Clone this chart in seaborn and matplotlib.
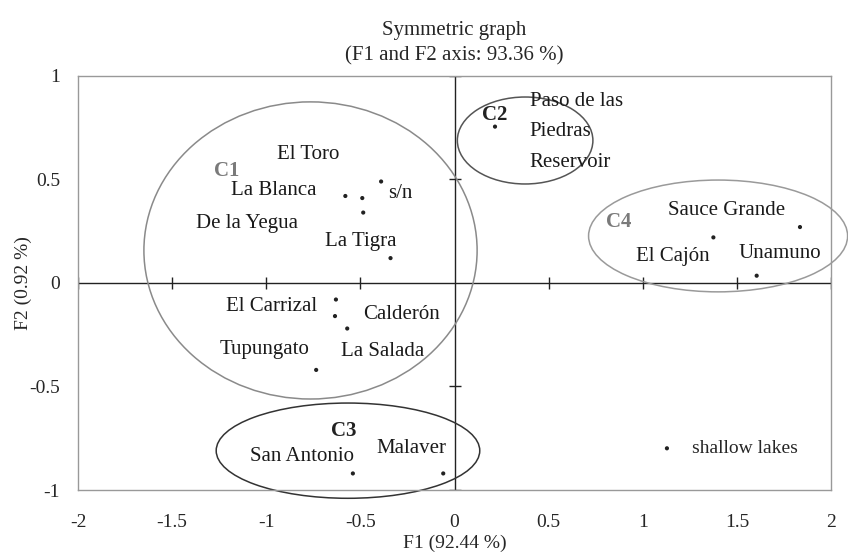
import matplotlib
matplotlib.use('Agg')
import matplotlib.pyplot as plt
from matplotlib.patches import Ellipse
import seaborn as sns
import pandas as pd

# lake coordinates on the first two factors
lakes = ['El Toro', 'La Blanca', 's/n', 'De la Yegua', 'La Tigra',
         'El Carrizal', 'Calderón', 'Tupungato', 'La Salada',
         'San Antonio', 'Malaver', 'Paso de las\nPiedras\nReservoir',
         'El Cajón', 'Sauce Grande', 'Unamuno']
f1 = [-0.49, -0.58, -0.39, -0.485, -0.34,
      -0.63, -0.635, -0.57, -0.735,
      -0.54, -0.06, 0.215,
      1.375, 1.835, 1.605]
f2 = [0.41, 0.42, 0.49, 0.34, 0.12,
      -0.08, -0.16, -0.22, -0.42,
      -0.92, -0.92, 0.755,
      0.22, 0.27, 0.035]

# where each lake name is written
label_x = [-0.78, -0.96, -0.29, -1.10, -0.50,
           -0.97, -0.28, -1.01, -0.38,
           -0.81, -0.23, 0.40,
           1.16, 1.445, 1.73]
label_y = [0.62, 0.445, 0.43, 0.285, 0.20,
           -0.115, -0.15, -0.32, -0.33,
           -0.84, -0.80, 0.73,
           0.13, 0.35, 0.14]

# clusters: centre, width, height, colour of ring and name
clusters = ['C1', 'C2', 'C3', 'C4']
cl_x = [-0.765, 0.375, -0.566, 1.40]
cl_y = [0.157, 0.688, -0.81, 0.227]
cl_w = [1.77, 0.72, 1.40, 1.376]
cl_h = [1.435, 0.42, 0.46, 0.54]
cl_color = ['#8a8a8a', '#555555', '#333333', '#9a9a9a']
cl_label_x = [-1.21, 0.215, -0.59, 0.87]
cl_label_y = [0.54, 0.81, -0.715, 0.295]
cl_label_color = ['#7a7a7a', '#222222', '#222222', '#7a7a7a']

xticks = [-2, -1.5, -1, -0.5, 0, 0.5, 1, 1.5, 2]
yticks = [-1, -0.5, 0, 0.5, 1]

df = pd.DataFrame({'F1': f1, 'F2': f2, 'lake': lakes})

sns.set_style('white')
plt.rcParams['font.family'] = ['Liberation Serif', 'DejaVu Serif']

fig = plt.figure(figsize=(8.48, 5.54), dpi=100)
ax = fig.add_axes([0.092, 0.1155, 0.888, 0.7475])

# crosshair through the origin
ax.axhline(0, color='#222222', lw=1, zorder=1)
ax.axvline(0, color='#222222', lw=1, zorder=1)
# small cross ticks on the crosshair
ax.plot([t for t in xticks if t != 0], [0] * (len(xticks) - 1), marker='|',
        ms=9, mew=1, color='#222222', ls='none', zorder=1)
ax.plot([0] * (len(yticks) - 1), [t for t in yticks if t != 0], marker='_',
        ms=9, mew=1, color='#222222', ls='none', zorder=1)

# cluster rings
for i in range(len(clusters)):
    ax.add_patch(Ellipse((cl_x[i], cl_y[i]), cl_w[i], cl_h[i], fill=False,
                         edgecolor=cl_color[i], lw=1.1, clip_on=False, zorder=2))
    ax.text(cl_label_x[i], cl_label_y[i], clusters[i], fontsize=15, fontweight='bold',
            color=cl_label_color[i], ha='center', va='center', zorder=3)

# lake points
sns.scatterplot(data=df, x='F1', y='F2', ax=ax, s=9, color='#222222',
                edgecolor='none', label='shallow lakes', zorder=4)

for i in range(len(lakes)):
    ha = 'left' if '\n' in lakes[i] else 'center'
    ax.text(label_x[i], label_y[i], lakes[i], fontsize=15, color='#1a1a1a',
            ha=ha, va='center', linespacing=1.8, zorder=3)

ax.set_xlim(-2, 2)
ax.set_ylim(-1, 1)
ax.set_xticks(xticks)
ax.set_xticklabels(['-2', '-1.5', '-1', '-0.5', '0', '0.5', '1', '1.5', '2'])
ax.set_yticks(yticks)
ax.set_yticklabels(['-1', '-0.5', '0', '0.5', '1'])
ax.tick_params(axis='x', length=0, pad=17, labelsize=14)
ax.tick_params(axis='y', length=0, pad=13, labelsize=14)
for spine in ax.spines.values():
    spine.set_color('#999999')
    spine.set_linewidth(1)

ax.set_xlabel('F1 (92.44 %)', fontsize=14)
ax.set_ylabel('F2 (0.92 %)', fontsize=14)
ax.xaxis.set_label_coords(0.5, -0.108)
ax.yaxis.set_label_coords(-0.061, 0.5)
ax.set_title('Symmetric graph\n(F1 and F2 axis: 93.36 %)', fontsize=15,
             linespacing=1.45, pad=11)

ax.legend(loc='center left', bbox_to_anchor=(0.733, 0.10), frameon=False,
          fontsize=14, handletextpad=0.3, markerscale=1.0)

plt.savefig('out.png', dpi=100)
